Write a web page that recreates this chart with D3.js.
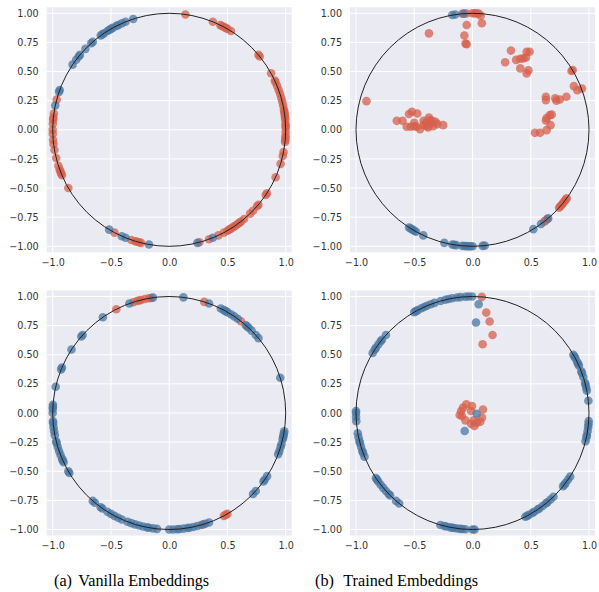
<!DOCTYPE html>
<html>
<head>
<meta charset="utf-8">
<script src="https://cdn.jsdelivr.net/npm/d3@7"></script>
<style>
  body { margin: 0; background: #fff; }
  svg { display: block; }
</style>
</head>
<body>
<div id="chart"></div>
<script>

// tick values
var xTicks = [-1, -0.5, 0, 0.5, 1];
var yTicks = [-1, -0.75, -0.5, -0.25, 0, 0.25, 0.5, 0.75, 1];

// points lying on the unit circle are given as angles (degrees), the rest as [x, y]
var vanTopBlueAng = [108, 112, 114, 116, 117, 119, 120, 121, 122, 124, 125, 126, 131, 132, 136, 140, 141, 143, 146, 160, 161, 168, -68, -76, -100, -112, -114, -121];
var vanTopRedAng = [82, 68, 64, 63, 62, 61, 60, 58, 40, 39, 29, 25, 24, 22, 20, 18, 16, 14, 12, 10, 9, 8, 7, 6, 5, 3, 2, 1, -1, -3, -4, -5, -6, -11, -13, -17, -24, -33, -34, -40, -41, -44, -46, -50, -52, -53, -54, -55, -56, -57, -58, -59, -60, -62, -65, -70, -75, -104, -105, -106, -107, -109, -118, -150, -157, -158, -159, -160, -162, -166, -170, -173, -175, -178, 180, 177, 175, 174, 172, 165];

var trTopBlueAng = [100, 98.5, 94.3, -119, -120, -121, -122, -123, -115, -104, -100, -99, -98, -95, -94, -93, -92, -91, -90, -85, -84, -49.5, -54, -58.5];
var trTopRedAng = [95, 93, 90, 89, 88, 87, -36, -37, -38, -39, -40, -41, -42, -50, -51, -52];
var trTopRedXY = [
  [0.07, 0.98], [0.08, 0.914], [-0.05, 0.9], [-0.07, 0.81], [-0.06, 0.74], [-0.05, 0.735], [-0.374, 0.828],
  [0.33, 0.68], [0.28, 0.58], [0.374, 0.6], [0.41, 0.61], [0.437, 0.613], [0.46, 0.62], [0.465, 0.67], [0.49, 0.67], [0.41, 0.527], [0.48, 0.51], [0.465, 0.484],
  [0.86, 0.513], [0.85, 0.505], [0.87, 0.375], [0.94, 0.355], [0.9, 0.34],
  [0.806, 0.284], [0.63, 0.284], [0.63, 0.255], [0.71, 0.27], [0.72, 0.25], [0.75, 0.26],
  [0.664, 0.126], [0.68, 0.13], [0.636, 0.1], [0.63, 0.08], [0.67, 0.04], [0.636, -0.003], [0.536, -0.026], [0.58, -0.026],
  [-0.91, 0.246],
  [-0.65, 0.077], [-0.6, 0.077], [-0.565, 0.026], [-0.53, 0.026], [-0.545, 0.135], [-0.52, 0.155], [-0.474, 0.14], [-0.5, 0.03], [-0.48, 0.026], [-0.45, 0.006],
  [-0.42, 0.077], [-0.4, 0.06], [-0.39, 0.03], [-0.374, 0.106], [-0.366, 0.083], [-0.354, 0.055], [-0.337, 0.03], [-0.317, 0.069], [-0.303, 0.049], [-0.252, 0.04],
  [-0.42, 0.04], [-0.346, 0.077], [-0.5, 0.06], [-0.38, 0.02]
];

var vanBotBlueAng = [83, 70, 63.7, 62, 61, 60, 58, 56, 54, 49, 48, 47, 45, 42, 40, 17.6, -9, -10, -11, -12, -13, -15.5, -17, -19, -20.7, -32.8, -35, -36, -42, -44, -70, -72, -74, -76, -78, -80, -81, -83, -85, -86, -88, -90, -96, -98, -100, -101, -103, -105, -107, -109, -111, -114, -116, -118, -120, -122, -125, -126, -129.6, -131, -149, -150, -155, -156, -157, -159, -161, -163, -165, -166, -169, -171, -173, -175, -176, 180, 178, 177, 176, 167, 158, 157, 147, 139, 138, 124.7, 110, 98];
var vanBotRedAng = [117, 108, 106, 105, 104, 102, 100, 99, 72.5, 52, -60, -61, -62, -73];

var trBotBlueAng = [105.9, 103.5, 101.8, 100, 97.6, 96, 93.5, 92, 90.2, 120, 119, 118, 116, 114.5, 113, 111, 109, 149, 147, 146, 144, 142, 141, 138, 180, 179, -178, -176, -170, -168, -166, -165, -163, -161, -160, -158, -146, -145, -144, -142, -140, -138, -136, -135, -131, -129, -106, -104, -103, -101, -100, -99, -97.6, -96, -95, -93.5, -90, -89, -63, -62, -61, -59, -58, -56, -55, -53, -51, -50, -48, -46, -39, -38, -37, -35, -33, -14, -12, -11, -9, -7, -5.5, -4, 6, 11, 12.5, 14, 15, 18, 20, 21, 24, 25, 26, 28, 29, 30];
var trBotBlueXY = [[0.053, 0.934], [0.03, 0.777], [0.036, -0.006], [-0.067, -0.155]];
var trBotRedAng = [85.4];
var trBotRedXY = [
  [0.118, 0.862], [0.147, 0.785], [0.172, 0.67], [0.087, 0.59],
  [-0.053, 0.075], [-0.081, 0.046], [-0.098, 0.017], [-0.11, -0.017], [-0.09, -0.026], [-0.061, -0.063], [-0.013, -0.092], [0.016, -0.112],
  [0.038, -0.083], [0.067, -0.075], [0.081, -0.04], [0.09, 0.03], [-0.004, 0.06], [-0.013, 0.017], [0.01, -0.063]
];

var captions = [["(a)", "Vanilla Embeddings"], ["(b)", "Trained Embeddings"]];

var red = "#d5604c", blue = "#4a77a2";

function toXY(ang) {
  return ang.map(function(a) {
    var r = a * Math.PI / 180;
    return [Math.cos(r), Math.sin(r)];
  });
}

var panels = [
  { left: 46.7, top: 7.3, red: toXY(vanTopRedAng), blue: toXY(vanTopBlueAng) },
  { left: 350, top: 7.3, red: toXY(trTopRedAng).concat(trTopRedXY), blue: toXY(trTopBlueAng) },
  { left: 46.7, top: 290.5, red: toXY(vanBotRedAng), blue: toXY(vanBotBlueAng) },
  { left: 350, top: 290.5, red: toXY(trBotRedAng).concat(trBotRedXY), blue: toXY(trBotBlueAng).concat(trBotBlueXY) }
];

var width = 599, height = 592, size = 245, lim = 1.0515;

var svg = d3.select("#chart")
  .append("svg")
  .attr("width", width)
  .attr("height", height);

panels.forEach(function(p) {
  var x = d3.scaleLinear().domain([-lim, lim]).range([0, size]);
  var y = d3.scaleLinear().domain([-lim, lim]).range([size, 0]);

  var g = svg.append("g")
    .attr("transform", "translate(" + p.left + "," + p.top + ")");

  g.append("rect")
    .attr("width", size)
    .attr("height", size)
    .attr("fill", "#eaeaf2");

  // grid
  g.selectAll(".gx").data(xTicks).enter().append("line")
    .attr("x1", function(d) { return x(d); })
    .attr("x2", function(d) { return x(d); })
    .attr("y1", 0).attr("y2", size)
    .attr("stroke", "#fff").attr("stroke-width", 1);
  g.selectAll(".gy").data(yTicks).enter().append("line")
    .attr("y1", function(d) { return y(d); })
    .attr("y2", function(d) { return y(d); })
    .attr("x1", 0).attr("x2", size)
    .attr("stroke", "#fff").attr("stroke-width", 1);

  // axes (labels only)
  var xa = g.append("g")
    .attr("transform", "translate(0," + size + ")")
    .call(d3.axisBottom(x).tickValues(xTicks).tickFormat(d3.format(".1f")).tickSize(0).tickPadding(7));
  var ya = g.append("g")
    .call(d3.axisLeft(y).tickValues(yTicks).tickFormat(d3.format(".2f")).tickSize(0).tickPadding(8));
  [xa, ya].forEach(function(a) {
    a.select(".domain").remove();
    a.selectAll("text")
      .attr("fill", "#333")
      .style("font-family", "DejaVu Sans")
      .style("font-size", "9.6px");
  });

  g.selectAll(".red").data(p.red).enter().append("circle")
    .attr("cx", function(d) { return x(d[0]); })
    .attr("cy", function(d) { return y(d[1]); })
    .attr("r", 4.3)
    .attr("fill", red)
    .attr("fill-opacity", 0.75);

  g.selectAll(".blue").data(p.blue).enter().append("circle")
    .attr("cx", function(d) { return x(d[0]); })
    .attr("cy", function(d) { return y(d[1]); })
    .attr("r", 4.3)
    .attr("fill", blue)
    .attr("fill-opacity", 0.75);

  // unit circle
  g.append("circle")
    .attr("cx", x(0))
    .attr("cy", y(0))
    .attr("r", x(1) - x(0))
    .attr("fill", "none")
    .attr("stroke", "#222")
    .attr("stroke-width", 1);
});

var capX = [[54, 78.3], [315, 343.3]];
captions.forEach(function(c, i) {
  var t = svg.append("g").style("font-family", "Liberation Serif").style("font-size", "16.2px").attr("fill", "#000");
  t.append("text").attr("x", capX[i][0]).attr("y", 586).text(c[0]);
  t.append("text").attr("x", capX[i][1]).attr("y", 586).text(c[1]);
});

</script>
</body>
</html>
